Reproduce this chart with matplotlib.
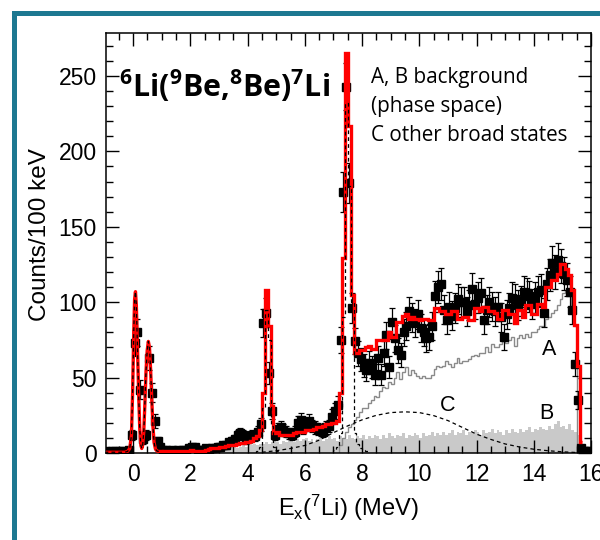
import numpy as np
import matplotlib
matplotlib.use("Agg")
import matplotlib.pyplot as plt
from matplotlib.lines import Line2D

plt.rcParams["font.family"] = ["Liberation Sans", "DejaVu Sans"]
plt.rcParams["mathtext.fontset"] = "custom"
plt.rcParams["mathtext.rm"] = "Liberation Sans"
plt.rcParams["mathtext.it"] = "Liberation Sans:italic"
plt.rcParams["mathtext.bf"] = "Open Sans:bold"

# ---- 100 keV binning of the 7Li excitation-energy spectrum ----
edges = np.round(np.arange(-1.0, 16.001, 0.1), 2)
centers = np.round(0.5 * (edges[:-1] + edges[1:]), 2)

counts = [
    1, 0, 1, 1, 0, 1, 1, 0, 2, 12,
    73, 80, 42, 9, 12, 63, 40, 21, 8, 4,
    2, 2, 1, 2, 1, 2, 1, 2, 2, 3,
    4, 4, 2, 2, 2, 3, 2, 3, 3, 4,
    4, 5, 5, 7, 8, 9, 12, 13, 12, 9,
    10, 12, 11, 14, 19, 86, 93, 53, 28, 12,
    16, 17, 15, 14, 13, 12, 14, 20, 22, 17,
    19, 21, 18, 17, 16, 15, 14, 17, 18, 24,
    28, 32, 75, 173, 243, 179, 96, 74, 66, 62,
    58, 55, 60, 57, 52, 63, 52, 66, 78, 57,
    87, 76, 68, 65, 80, 84, 94, 90, 86, 92,
    83, 80, 76, 77, 84, 104, 110, 112, 95, 88,
    97, 91, 96, 102, 100, 100, 94, 98, 109, 99,
    103, 106, 88, 95, 100, 97, 94, 97, 90, 77,
    92, 96, 103, 102, 98, 101, 107, 106, 104, 99,
    103, 107, 108, 93, 112, 118, 126, 120, 128, 124,
    119, 115, 107, 95, 59, 35, 3, 1, 1, 1,
]
count_err = [
    1, 0, 1, 1, 0, 1, 1, 0, 1.4, 3.5,
    8.5, 8.9, 6.5, 3, 3.5, 7.9, 6.3, 4.6, 2.8, 2,
    1.4, 1.4, 1, 1.4, 1, 1.4, 1, 1.4, 1.4, 1.7,
    2, 2, 1.4, 1.4, 1.4, 1.7, 1.4, 1.7, 1.7, 2,
    2, 2.2, 2.2, 2.6, 2.8, 3, 3.5, 3.6, 3.5, 3,
    3.2, 3.5, 3.3, 3.7, 4.4, 9.3, 9.6, 7.3, 5.3, 3.5,
    4, 4.1, 3.9, 3.7, 3.6, 3.5, 3.7, 4.5, 4.7, 4.1,
    4.4, 4.6, 4.2, 4.1, 4, 3.9, 3.7, 4.1, 4.2, 4.9,
    5.3, 5.7, 8.7, 13.2, 15.6, 13.4, 9.8, 8.6, 8.1, 7.9,
    7.6, 7.4, 7.7, 7.5, 7.2, 7.9, 7.2, 8.1, 8.8, 7.5,
    9.3, 8.7, 8.2, 8.1, 8.9, 9.2, 9.7, 9.5, 9.3, 9.6,
    9.1, 8.9, 8.7, 8.8, 9.2, 10.2, 10.5, 10.6, 9.7, 9.4,
    9.8, 9.5, 9.8, 10.1, 10, 10, 9.7, 9.9, 10.4, 9.9,
    10.1, 10.3, 9.4, 9.7, 10, 9.8, 9.7, 9.8, 9.5, 8.8,
    9.6, 9.8, 10.1, 10.1, 9.9, 10, 10.3, 10.3, 10.2, 9.9,
    10.1, 10.3, 10.4, 9.6, 10.6, 10.9, 11.2, 11, 11.3, 11.1,
    10.9, 10.7, 10.3, 9.7, 7.7, 5.9, 1.7, 1, 1, 1,
]

# ---- total fit: smooth part over the two lowest states, binned above ----
fit_low_x = [-1.0, -0.3, -0.2, -0.12, -0.06, -0.02, 0.02, 0.05, 0.08, 0.11,
             0.15, 0.19, 0.23, 0.27, 0.30, 0.33, 0.37, 0.41, 0.45, 0.49,
             0.53, 0.57, 0.61, 0.65, 0.69, 0.73, 0.78, 0.84, 0.92, 1.0]
fit_low_y = [0.5, 0.5, 1, 3, 12, 40, 80, 102, 107, 98,
             70, 40, 16, 5, 3, 5, 14, 33, 55, 68,
             74, 70, 55, 35, 18, 7, 2.5, 1.2, 1, 1]

fit_edges = np.round(np.arange(1.0, 15.701, 0.1), 2)
fit_counts = [
    1, 1, 1, 1, 1, 1, 1, 1, 1, 1.5,
    2, 1.5, 1, 1, 1, 2, 2.5, 3, 3, 3.5,
    4, 4, 4.5, 5, 5, 5.5, 6, 6.5, 6.5, 7,
    7.5, 8, 10, 11, 15, 40, 108, 84, 31, 13,
    14, 12, 12, 12, 12, 12, 13, 14, 14, 14,
    15, 15, 15, 16, 17, 17, 18, 19, 19, 20,
    20, 21, 40, 129, 265, 217, 105, 66, 66, 68,
    68, 70, 71, 69, 69, 75, 75, 75, 75, 80,
    77, 77, 87, 87, 91, 92, 89, 90, 89, 89,
    88, 89, 89, 88, 88, 96, 96, 94, 94, 92,
    92, 94, 94, 89, 89, 90, 90, 88, 88, 96,
    96, 94, 97, 97, 94, 94, 93, 89, 89, 95,
    95, 92, 92, 86, 95, 95, 90, 98, 98, 92,
    92, 99, 99, 97, 110, 110, 115, 115, 119, 125,
    125, 122, 118, 108, 85, 58, 7,
]

# ---- narrow-state components (dashed) ----
state_463_edges = np.round(np.arange(4.3, 5.101, 0.1), 2)
state_463 = [1, 4, 30, 95, 75, 18, 4, 1]
state_745_edges = np.round(np.arange(7.0, 8.201, 0.1), 2)
state_745 = [2, 4, 13, 90, 232, 177, 100, 13, 6, 3, 2, 1]

# ---- background A (phase space, outline) ----
bg_a_edges = np.round(np.arange(7.2, 15.501, 0.1), 2)
bg_a = [
    5, 10, 14, 17, 19, 22, 24, 27,
    30, 30, 33, 35, 38, 37, 41, 44, 43, 47,
    46, 50, 54, 49, 54, 57, 52, 55, 53, 51,
    50, 51, 50, 50, 52, 56, 58, 57, 58, 61,
    59, 57, 60, 63, 60, 61, 61, 62, 64, 65,
    64, 66, 66, 70, 67, 72, 70, 70, 72, 74,
    73, 75, 77, 71, 76, 78, 76, 79, 77, 80,
    80, 82, 84, 84, 89, 90, 93, 95, 98, 102,
    106, 108, 107, 96, 84,
]

# ---- background B (phase space, filled) ----
bg_b_edges = np.round(np.arange(2.7, 15.601, 0.1), 2)
bg_b = [
    1, 2, 2,
    2, 3, 2, 3, 3, 4, 3, 4, 5, 4,
    5, 5, 6, 5, 6, 6, 7, 6, 7, 8,
    7, 6, 8, 7, 9, 8, 7, 9, 8, 9,
    10, 8, 9, 7, 9, 10, 8, 9, 11, 9,
    10, 8, 11, 10, 9, 12, 10, 9, 11, 10,
    12, 9, 11, 10, 12, 11, 9, 12, 10, 13,
    11, 10, 12, 11, 13, 10, 12, 11, 13, 12,
    10, 13, 11, 12, 14, 11, 13, 12, 14, 12,
    13, 15, 12, 14, 13, 15, 12, 14, 13, 15,
    14, 12, 15, 13, 14, 16, 13, 15, 14, 12,
    15, 13, 16, 14, 13, 16, 14, 15, 17, 14,
    16, 15, 17, 16, 15, 18, 16, 19, 21, 17,
    18, 16, 19, 15, 14, 12,
]

# ---- C: other broad states ----
broad_x = [4.5, 5.0, 5.5, 6.0, 6.5, 7.0, 7.5, 8.0, 8.5, 9.0, 9.5, 10.0,
           10.5, 11.0, 11.5, 12.0, 12.5, 13.0, 13.5, 14.0, 14.5, 15.0, 15.5]
broad_y = [0.5, 1.5, 3, 5, 8.5, 13.5, 18, 22, 25, 26.8, 27.3, 26.8,
           24.8, 21.5, 17, 12.5, 9, 6, 4, 2.5, 1.5, 0.8, 0.3]

fig = plt.figure(figsize=(6.0, 5.4), dpi=100)
ax = fig.add_axes([106 / 600, 1 - 453 / 540, 485 / 600, 420 / 540])

ax.stairs(bg_b, bg_b_edges, fill=True, color="#c9c9c9", baseline=0, zorder=1)
ax.plot(broad_x, broad_y, color="black", lw=0.9, ls=(0, (3, 2.5)), zorder=2)
ax.stairs(bg_a, bg_a_edges, color="#8a8a8a", lw=1.0, baseline=0, zorder=2)

ax.errorbar(centers, counts, yerr=count_err, fmt="s", color="black",
            ms=6.0, elinewidth=0.9, capsize=2.4, capthick=0.9, zorder=3)

ax.plot(fit_low_x, fit_low_y, color="red", lw=2.4, zorder=4)
ax.stairs(fit_counts, fit_edges, color="red", lw=2.4, baseline=None, zorder=4)

ax.plot(fit_low_x, fit_low_y, color="black", lw=0.9, ls=(0, (3, 2.5)), zorder=5)
ax.stairs(state_463, state_463_edges, color="black", lw=0.9,
          ls=(0, (3, 2.5)), baseline=0, zorder=5)
ax.stairs(state_745, state_745_edges, color="black", lw=0.9,
          ls=(0, (3, 2.5)), baseline=0, zorder=5)

ax.set_xlim(-0.95, 16.0)
ax.set_ylim(0, 278.5)
ax.set_xticks(np.arange(0, 17, 2))
ax.set_xticks(np.arange(-0.5, 16.01, 0.5), minor=True)
ax.set_yticks(np.arange(0, 251, 50))
ax.set_yticks(np.arange(0, 271, 10), minor=True)
ax.tick_params(which="both", direction="in", top=True, right=True,
               width=1.0, labelsize=16.5)
ax.tick_params(which="major", length=9.5, pad=6.5)
ax.tick_params(axis="x", which="major", pad=7.5)
ax.tick_params(which="minor", length=5)
for sp in ax.spines.values():
    sp.set_linewidth(1.1)

ax.set_xlabel(r"E$_{\mathrm{x}}$($^{\mathrm{7}}$Li) (MeV)", fontsize=17)
ax.xaxis.set_label_coords(0.5, -0.095)
ax.set_ylabel("Counts/100 keV", fontsize=17.5)
ax.yaxis.set_label_coords(-0.114, 0.519)

ax.text(14.54, 68.3, "A", fontsize=15.5, ha="center", va="center", zorder=6)
ax.text(14.43, 26.3, "B", fontsize=15.5, ha="center", va="center", zorder=6)
ax.text(10.98, 31.8, "C", fontsize=15.5, ha="center", va="center", zorder=6)

fig.text(119 / 600, 1 - 97 / 540,
         r"$\mathbf{^{6}Li(^{9}Be{,}^{8}Be)^{7}Li}$", fontsize=21.8,
         ha="left", va="baseline")

note_lines = ["A, B background", "(phase space)", "C other broad states"]
for k, line in enumerate(note_lines):
    fig.text(371 / 600, 1 - (83.3 + 29 * k) / 540, line, fontsize=14.9,
             family=["Open Sans", "DejaVu Sans"], ha="left", va="baseline")

# teal slide frame
frame = Line2D([14.3 / 600, 14.3 / 600, 1.02], [-0.02, 1 - 12.8 / 540, 1 - 12.8 / 540],
               transform=fig.transFigure, color="#1d7891", lw=3.6,
               solid_joinstyle="miter", solid_capstyle="butt")
fig.add_artist(frame)

fig.savefig("out.png", dpi=100)
